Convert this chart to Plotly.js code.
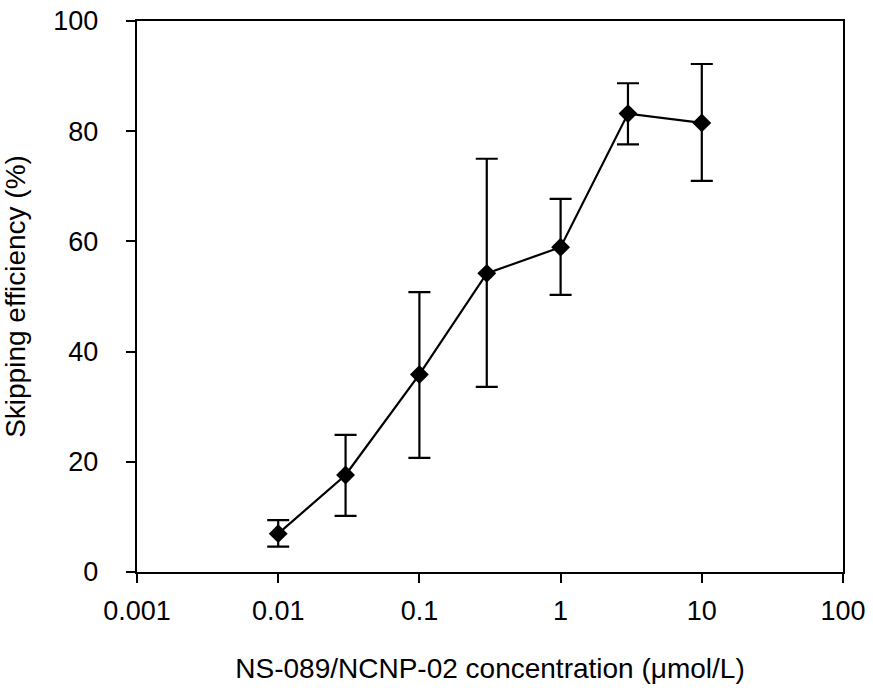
<!DOCTYPE html>
<html>
<head>
<meta charset="utf-8">
<script src="https://cdn.plot.ly/plotly-3.0.1.min.js"></script>
<style>html,body{margin:0;padding:0;background:#fff;}#chart{width:873px;height:690px;}</style>
</head>
<body>
<div id="chart"></div>
<script>
const concentrations = [0.01, 0.03, 0.1, 0.3, 1, 3, 10];
const efficiency = [6.96, 17.6, 35.85, 54.2, 58.95, 83.2, 81.5];
const errUpper = [9.4, 24.9, 50.8, 75.0, 67.7, 88.7, 92.2];
const errLower = [4.6, 10.2, 20.7, 33.6, 50.3, 77.6, 71.0];
const xTickVals = [0.001, 0.01, 0.1, 1, 10, 100];
const xTickText = ["0.001", "0.01", "0.1", "1", "10", "100"];
const yTickVals = [0, 20, 40, 60, 80, 100];

const plus = efficiency.map((v, i) => errUpper[i] - v);
const minus = efficiency.map((v, i) => v - errLower[i]);

const trace = {
  x: concentrations,
  y: efficiency,
  type: 'scatter',
  mode: 'lines+markers',
  line: {color: '#000', width: 2.2},
  marker: {symbol: 'diamond', size: 14.5, color: '#000'},
  error_y: {type: 'data', symmetric: false, array: plus, arrayminus: minus,
            color: '#000', thickness: 2.2, width: 11},
  cliponaxis: false
};

const fam = 'Liberation Sans, Arial, sans-serif';
const layout = {
  width: 873, height: 690,
  margin: {l: 137, r: 30, t: 21, b: 118},
  paper_bgcolor: '#fff', plot_bgcolor: '#fff',
  showlegend: false,
  font: {family: fam, color: '#000'},
  xaxis: {
    type: 'log', range: [-3, 2],
    tickvals: xTickVals, ticktext: xTickText,
    ticks: 'outside', ticklen: 9, tickwidth: 2, tickcolor: '#000',
    showline: true, linecolor: '#000', linewidth: 2.2, mirror: true,
    showgrid: false, zeroline: false,
    ticklabelstandoff: 4,
    tickfont: {size: 27, family: fam, color: '#000'},
    title: {text: 'NS-089/NCNP-02 concentration (μmol/L)', font: {size: 28, family: fam, color: '#000'}, standoff: 34}
  },
  yaxis: {
    range: [0, 100],
    tickvals: yTickVals,
    ticks: 'outside', ticklen: 9, tickwidth: 2, tickcolor: '#000',
    showline: true, linecolor: '#000', linewidth: 2.2, mirror: true,
    showgrid: false, zeroline: false,
    ticklabelstandoff: 22,
    tickfont: {size: 27, family: fam, color: '#000'},
    title: {text: 'Skipping efficiency (%)', font: {size: 28, family: fam, color: '#000'}, standoff: 20}
  }
};

Plotly.newPlot('chart', [trace], layout, {displayModeBar: false, staticPlot: true});
</script>
</body>
</html>
